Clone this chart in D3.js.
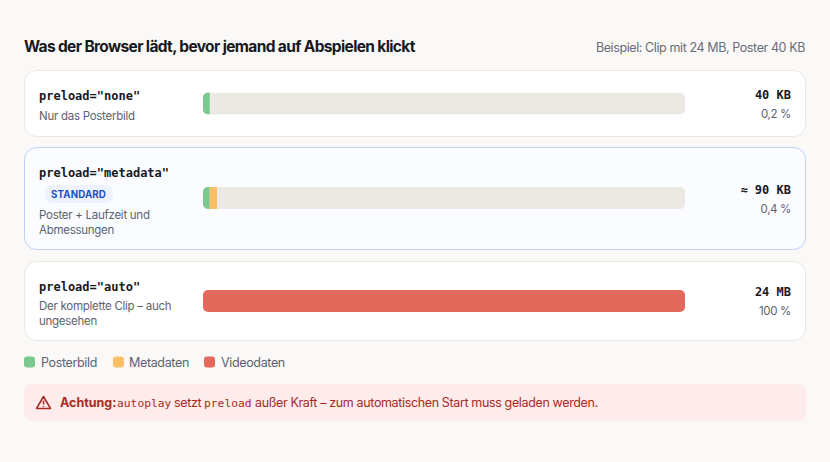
<!DOCTYPE html>
<html><head><meta charset="utf-8">
<script src="https://cdn.jsdelivr.net/npm/d3@7/dist/d3.min.js"></script>
<style>html,body{margin:0;padding:0;background:#fbf9f7}svg{display:block}</style>
</head><body><div id="c"></div>
<script>
const sans='Inter, "Noto Sans", sans-serif', mono='"DejaVu Sans Mono", monospace';
const categories=['preload="none"','preload="metadata"','preload="auto"'];
const descriptions=[["Nur das Posterbild"],["Poster + Laufzeit und","Abmessungen"],["Der komplette Clip – auch","ungesehen"]];
const sizeLabels=["40 KB","≈ 90 KB","24 MB"];
const shareLabels=["0,2 %","0,4 %","100 %"];
const posterShare=[1.4,1.4,0];   // drawn width, % of track
const metaShare=[0,1.5,0];
const videoShare=[0,0,100];
const seriesNames=["Posterbild","Metadaten","Videodaten"];
const seriesColors=["#7bc98f","#fcbf66","#e2695c"];
const cardTop=[70.5,147.5,261.5], cardH=[66,102,79], barCy=[103.5,198,301];

const svg=d3.select("#c").append("svg").attr("width",830).attr("height",462);
svg.append("rect").attr("width",830).attr("height",462).attr("fill","#fbf9f7");
const text=(s,x,y,o={})=>svg.append("text").attr("x",x).attr("y",y).text(s)
  .attr("font-family",o.f||sans).attr("font-size",o.s||12).attr("font-weight",o.w||400)
  .attr("fill",o.c||"#5c6270").attr("text-anchor",o.a||"start").attr("letter-spacing",o.l||0);

text("Was der Browser lädt, bevor jemand auf Abspielen klickt",24,52,{s:15.5,w:700,c:"#17191f",l:-0.64});
text("Beispiel: Clip mit 24 MB, Poster 40 KB",805,52,{s:12.5,c:"#666c78",a:"end",l:-0.4});

const x=d3.scaleLinear().domain([0,100]).range([203,685]);
categories.forEach((cat,i)=>{
  const hi=i===1;
  svg.append("rect").attr("x",24.5).attr("y",cardTop[i]).attr("width",781).attr("height",cardH[i]).attr("rx",12)
    .attr("fill",hi?"#fbfcff":"#ffffff").attr("stroke",hi?"#bfd0f5":"#ebe8e4");
  const yTop=barCy[i]-11;
  const clipId="clip"+i;
  svg.append("clipPath").attr("id",clipId).append("rect").attr("x",x(0)).attr("y",yTop).attr("width",x(100)-x(0)).attr("height",22).attr("rx",5);
  const g=svg.append("g").attr("clip-path",`url(#${clipId})`);
  g.append("rect").attr("x",x(0)).attr("y",yTop).attr("width",x(100)-x(0)).attr("height",22).attr("fill","#ece8e3");
  let acc=0;
  [posterShare[i],metaShare[i],videoShare[i]].forEach((v,k)=>{
    if(v>0) g.append("rect").attr("x",x(acc)).attr("y",yTop).attr("width",x(acc+v)-x(acc)).attr("height",22).attr("fill",seriesColors[k]);
    acc+=v;
  });
});
const labelY=[100,177,291], descY=[[120],[219,234],[310,325]];
categories.forEach((cat,i)=>{
  text(cat,39,labelY[i],{f:mono,s:12,w:700,c:"#17191f"});
  descriptions[i].forEach((d,k)=>text(d,39,descY[i][k],{s:11.5,c:"#5c6270",l:-0.27}));
});
svg.append("rect").attr("x",45).attr("y",185).attr("width",68).attr("height",18).attr("rx",7).attr("fill","#edf2fd");
text("STANDARD",78.5,198,{s:9.7,w:700,c:"#1d4fc4",a:"middle",l:0.15});
const sizeY=[99,194,296], shareY=[118,213,315];
categories.forEach((cat,i)=>{
  text(sizeLabels[i],791,sizeY[i],{f:mono,s:12,w:700,c:"#17191f",a:"end"});
  text(shareLabels[i],791,shareY[i],{s:11.5,c:"#5c6270",a:"end",l:-0.35});
});
const legendX=[24,113,204], legendTextX=[41,129,221];
seriesNames.forEach((n,i)=>{
  svg.append("rect").attr("x",legendX[i]).attr("y",356.5).attr("width",11).attr("height",11).attr("rx",3).attr("fill",seriesColors[i]);
  text(n,legendTextX[i],366.5,{s:12.5,c:"#5c6270",l:-0.35});
});
svg.append("rect").attr("x",24).attr("y",384).attr("width",782).attr("height",37).attr("rx",8).attr("fill","#feebeb");
svg.append("path").attr("d","M43.5 396.5 L50.5 408.5 L36.5 408.5 Z M43.5 400.5 V404.5 M43.5 406 V407").attr("fill","none").attr("stroke","#a92a22").attr("stroke-width",1.5).attr("stroke-linejoin","round");
const warnParts=[["Achtung:",60,sans,700,12.5,0],["autoplay",117,mono,400,11.3,0],["setzt",174,sans,400,12.5,-0.35],["preload",204,mono,400,11.3,0],["außer Kraft – zum automatischen Start muss geladen werden.",255,sans,400,12.5,-0.36]];
warnParts.forEach(([t,px,f,w,s,l])=>text(t,px,407,{f:f,w:w,s:s,l:l,c:"#a92a22"}));
</script></body></html>
